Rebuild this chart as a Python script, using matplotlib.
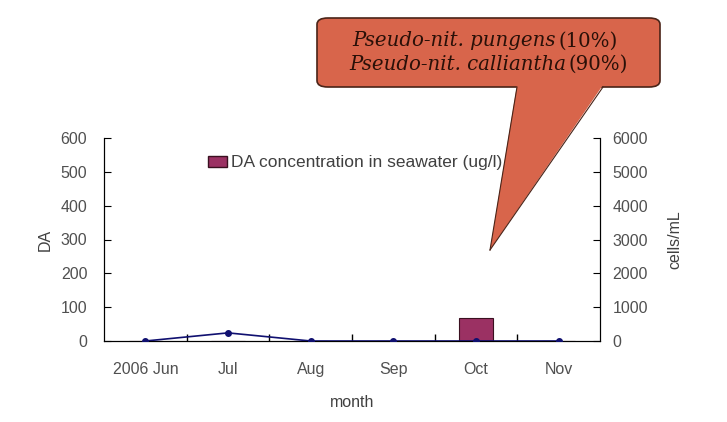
import matplotlib
matplotlib.use('agg')
import matplotlib.pyplot as plt
from matplotlib.patches import FancyBboxPatch, Polygon, Patch
from matplotlib.lines import Line2D

months = ["2006 Jun", "Jul", "Aug", "Sep", "Oct", "Nov"]
da_conc = [0, 0, 0, 0, 68, 0]          # ug/l, left axis
cells = [0, 240, 0, 0, 0, 0]           # cells/mL, right axis

W, H = 727, 422
plt.rcParams['font.family'] = ['Liberation Sans', 'DejaVu Sans']
fig = plt.figure(figsize=(W / 100, H / 100), dpi=100)
ax = fig.add_axes([104 / W, 1 - 341 / H, 496 / W, 203 / H])

x = list(range(len(months)))
bars = ax.bar(x, da_conc, width=0.4, color='#9b3163', edgecolor='#3a1020', linewidth=0.8, zorder=2)
ax.set_xlim(-0.5, 5.5)
ax.set_ylim(0, 600)
ax.set_yticks([0, 100, 200, 300, 400, 500, 600])
ax.set_xticks(x)
ax.set_xticklabels(months)
ax.set_xticks([i + 0.5 for i in range(5)], minor=True)
ax.tick_params(axis='x', which='major', length=0, pad=15, labelsize=11.5, labelcolor='#505050')
ax.tick_params(axis='x', which='minor', length=5, direction='in', width=1)
ax.tick_params(axis='y', length=5, direction='in', pad=12, labelsize=11.5, labelcolor='#505050')
ax.spines['top'].set_visible(False)
ax.set_ylabel("DA", fontsize=11.5, color='#404040', labelpad=6)
ax.set_xlabel("month", fontsize=11.5, color='#404040', labelpad=13)

ax2 = ax.twinx()
ax2.plot(x, cells, color='#101070', linewidth=1.2, marker='o', markersize=4, zorder=3)
ax2.set_ylim(0, 6000)
ax2.set_yticks([0, 1000, 2000, 3000, 4000, 5000, 6000])
ax2.tick_params(axis='y', length=5, direction='in', pad=9, labelsize=11.5, labelcolor='#505050')
ax2.spines['top'].set_visible(False)
ax2.set_ylabel("cells/mL", fontsize=11.5, color='#404040', labelpad=14)

leg = ax.legend([Patch(facecolor='#9b3163', edgecolor='#3a1020')],
                ["DA concentration in seawater (ug/l)"],
                loc='center left', bbox_to_anchor=(192 / W, 1 - 163 / H),
                bbox_transform=fig.transFigure, frameon=False, fontsize=12.5,
                handlelength=1.1, handleheight=0.6, handletextpad=0.25)
for t in leg.get_texts():
    t.set_color('#404040')


def fp(px, py):
    return (px / W, 1 - py / H)


# callout box with tail
box_col = '#d8654b'
edge_col = '#4a2418'
bx0, by0 = fp(317, 87)
bx1, by1 = fp(660, 18)
box = FancyBboxPatch((bx0, by0), bx1 - bx0, by1 - by0,
                     boxstyle='round,pad=0,rounding_size=0.015',
                     transform=fig.transFigure, facecolor=box_col,
                     edgecolor=edge_col, linewidth=1.2, zorder=10)
fig.add_artist(box)
tail = Polygon([fp(517, 85), fp(603, 85), fp(490, 250)], closed=True,
               transform=fig.transFigure, facecolor=box_col, edgecolor='none', zorder=11)
fig.add_artist(tail)
for a, b in [((517, 87), (490, 250)), ((603, 87), (490, 250))]:
    p0, p1 = fp(*a), fp(*b)
    fig.add_artist(Line2D([p0[0], p1[0]], [p0[1], p1[1]], transform=fig.transFigure,
                          color=edge_col, linewidth=0.8, zorder=12))

tkw = dict(transform=fig.transFigure, fontsize=14.2, color='#2a1008',
           va='center', zorder=13, family='DejaVu Serif')
fig.text(*fp(556, 41), "Pseudo-nit. pungens", ha='right', style='italic', **tkw)
fig.text(*fp(559, 41), "(10%)", ha='left', **tkw)
fig.text(*fp(566, 64), "Pseudo-nit. calliantha", ha='right', style='italic', **tkw)
fig.text(*fp(569, 64), "(90%)", ha='left', **tkw)

fig.savefig('out.png', dpi=100)
